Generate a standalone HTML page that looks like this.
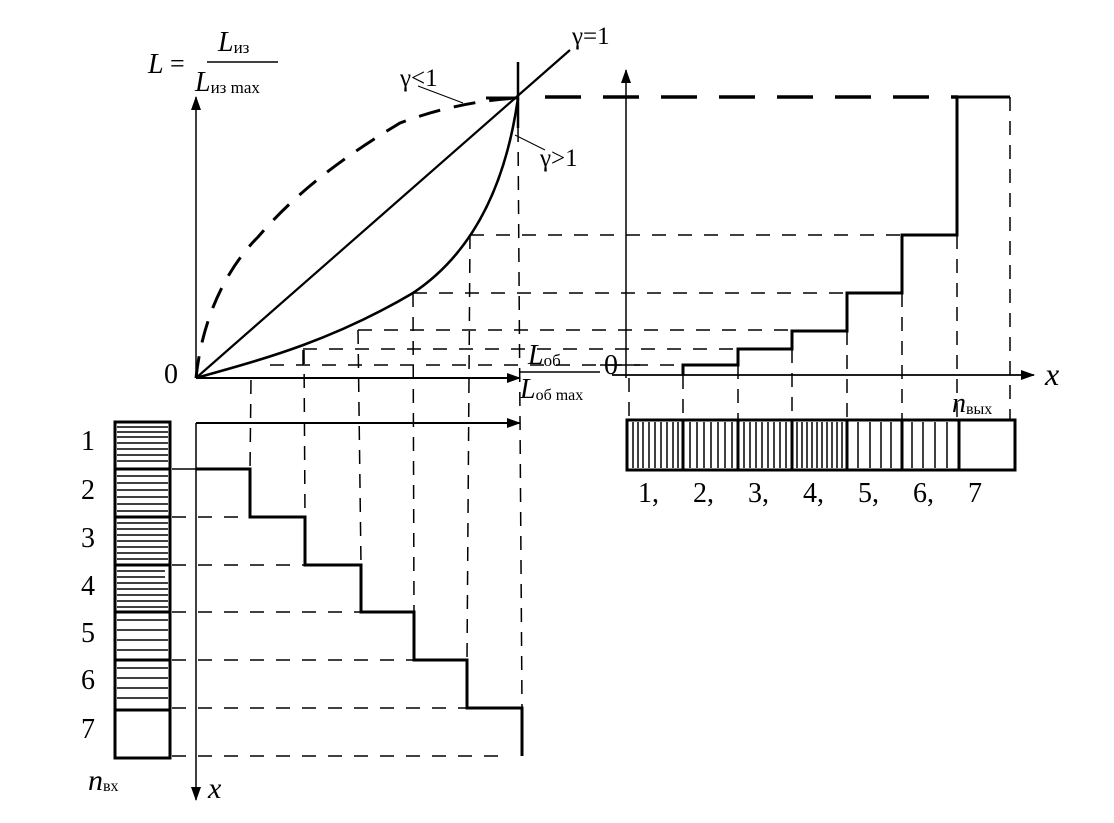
<!DOCTYPE html>
<html><head><meta charset="utf-8"><style>
html,body{margin:0;padding:0;background:#fff;}
svg{display:block;}
text{font-family:"Liberation Serif",serif;fill:#000;}
</style></head><body>
<svg width="1114" height="823" viewBox="0 0 1114 823" xmlns="http://www.w3.org/2000/svg">
<defs>
<marker id="ar" markerWidth="14" markerHeight="10" refX="13" refY="5" orient="auto" markerUnits="userSpaceOnUse"><path d="M0,0 L14,5 L0,10 Z" fill="#000"/></marker>
</defs>
<g stroke="#000" fill="none">
<line x1="196" y1="378" x2="196" y2="97" stroke-width="1.5" marker-end="url(#ar)"/>
<line x1="196" y1="378" x2="520" y2="378" stroke-width="2" marker-end="url(#ar)"/>
<line x1="196" y1="378" x2="570" y2="50" stroke-width="2.2"/>
<path d="M196,378 C202,320 225,270 258,237 C290,200 330,165 400,123 C440,108 480,100 518,98" stroke-width="3" stroke-dasharray="22,14"/>
<path d="M196,378 C260,360 330,342 413,293 C470,255 505,190 518,98" stroke-width="2.6"/>
<line x1="518" y1="62" x2="518" y2="128" stroke-width="2.5"/>
<line x1="486" y1="98" x2="518" y2="98" stroke-width="3"/>
<line x1="418" y1="86" x2="463" y2="103" stroke-width="1"/>
<line x1="515" y1="135" x2="545" y2="150" stroke-width="1"/>
<line x1="545" y1="97" x2="958" y2="97" stroke-width="3.5" stroke-dasharray="36,22"/>
<g stroke-width="1.5" stroke-dasharray="14,12">
<line x1="470" y1="235" x2="902" y2="235"/>
<line x1="413" y1="293" x2="847" y2="293"/>
<line x1="358" y1="330" x2="792" y2="330"/>
<line x1="303" y1="349" x2="738" y2="349"/>
<line x1="270" y1="365" x2="683" y2="365"/>
</g>
<line x1="303" y1="350" x2="303" y2="365" stroke-width="1.5"/>
<g stroke-width="1.5" stroke-dasharray="14,10">
<line x1="251" y1="380" x2="250" y2="469"/>
<line x1="304" y1="350" x2="305" y2="517"/>
<line x1="358" y1="330" x2="361" y2="565"/>
<line x1="413" y1="293" x2="414" y2="612"/>
<line x1="470" y1="235" x2="467" y2="660"/>
<line x1="518" y1="128" x2="522" y2="708"/>
</g>
<line x1="196" y1="423" x2="520" y2="423" stroke-width="2" marker-end="url(#ar)"/>
<line x1="196" y1="423" x2="196" y2="800" stroke-width="1.5" marker-end="url(#ar)"/>
<path d="M196,469 H250 V517 H305 V565 H361 V612 H414 V660 H467 V708 H522 V756" stroke-width="3"/>
<g stroke-width="1.5" stroke-dasharray="14,12">
<line x1="172" y1="517" x2="305" y2="517"/>
<line x1="172" y1="565" x2="361" y2="565"/>
<line x1="172" y1="612" x2="414" y2="612"/>
<line x1="172" y1="660" x2="467" y2="660"/>
<line x1="172" y1="708" x2="522" y2="708"/>
<line x1="172" y1="756" x2="510" y2="756"/>
</g>
<line x1="172" y1="469" x2="196" y2="469" stroke-width="1.5"/>
<rect x="115" y="422" width="55" height="336" stroke-width="3"/>
<g stroke-width="3"><line x1="115" y1="469" x2="170" y2="469"/><line x1="115" y1="517" x2="170" y2="517"/><line x1="115" y1="565" x2="170" y2="565"/><line x1="115" y1="612" x2="170" y2="612"/><line x1="115" y1="660" x2="170" y2="660"/><line x1="115" y1="710" x2="170" y2="710"/></g>
<g stroke-width="1.5">
<line x1="117" y1="427" x2="168" y2="427"/><line x1="117" y1="432" x2="168" y2="432"/><line x1="117" y1="437" x2="168" y2="437"/><line x1="117" y1="443" x2="168" y2="443"/><line x1="117" y1="449" x2="168" y2="449"/><line x1="117" y1="455" x2="168" y2="455"/><line x1="117" y1="461" x2="168" y2="461"/>
<line x1="117" y1="476" x2="168" y2="476"/><line x1="117" y1="483" x2="168" y2="483"/><line x1="117" y1="490" x2="168" y2="490"/><line x1="117" y1="497" x2="168" y2="497"/><line x1="117" y1="504" x2="168" y2="504"/><line x1="117" y1="511" x2="168" y2="511"/>
<line x1="117" y1="523" x2="168" y2="523"/><line x1="117" y1="529" x2="168" y2="529"/><line x1="117" y1="535" x2="168" y2="535"/><line x1="117" y1="541" x2="168" y2="541"/><line x1="117" y1="547" x2="168" y2="547"/><line x1="117" y1="553" x2="168" y2="553"/><line x1="117" y1="559" x2="168" y2="559"/>
<line x1="117" y1="571" x2="165" y2="571"/><line x1="117" y1="577" x2="165" y2="577"/><line x1="117" y1="583" x2="168" y2="583"/><line x1="117" y1="589" x2="168" y2="589"/><line x1="117" y1="595" x2="168" y2="595"/><line x1="117" y1="601" x2="168" y2="601"/><line x1="117" y1="607" x2="168" y2="607"/>
<line x1="117" y1="620" x2="168" y2="620"/><line x1="117" y1="630" x2="168" y2="630"/><line x1="117" y1="640" x2="168" y2="640"/><line x1="117" y1="650" x2="168" y2="650"/>
<line x1="117" y1="668" x2="168" y2="668"/><line x1="117" y1="678" x2="168" y2="678"/><line x1="117" y1="688" x2="168" y2="688"/><line x1="117" y1="698" x2="168" y2="698"/>
</g>
<line x1="626" y1="378" x2="626" y2="70" stroke-width="1.5" marker-end="url(#ar)"/>
<line x1="612" y1="375" x2="1034" y2="375" stroke-width="1.8" marker-end="url(#ar)"/>
<line x1="600" y1="365" x2="640" y2="365" stroke-width="1.5"/>
<path d="M683,375 V365 H738 V349 H792 V331 H847 V293 H902 V235 H957 V97 H1010" stroke-width="3"/>
<g stroke-width="1.5" stroke-dasharray="14,10">
<line x1="1010" y1="97" x2="1010" y2="420"/>
<line x1="957" y1="235" x2="957" y2="420"/>
<line x1="902" y1="293" x2="902" y2="420"/>
<line x1="847" y1="331" x2="847" y2="420"/>
<line x1="792" y1="349" x2="792" y2="420"/>
<line x1="738" y1="365" x2="738" y2="420"/>
<line x1="683" y1="375" x2="683" y2="420"/>
<line x1="629" y1="378" x2="629" y2="420"/>
</g>
<rect x="627" y="420" width="388" height="50" stroke-width="3"/>
<g stroke-width="3"><line x1="683" y1="420" x2="683" y2="470"/><line x1="738" y1="420" x2="738" y2="470"/><line x1="792" y1="420" x2="792" y2="470"/><line x1="847" y1="420" x2="847" y2="470"/><line x1="902" y1="420" x2="902" y2="470"/><line x1="959" y1="420" x2="959" y2="470"/></g>
<g stroke-width="1.5">
<line x1="633" y1="422" x2="633" y2="468"/><line x1="638" y1="422" x2="638" y2="468"/><line x1="643" y1="422" x2="643" y2="468"/><line x1="649" y1="422" x2="649" y2="468"/><line x1="655" y1="422" x2="655" y2="468"/><line x1="661" y1="422" x2="661" y2="468"/><line x1="667" y1="422" x2="667" y2="468"/><line x1="673" y1="422" x2="673" y2="468"/><line x1="678" y1="422" x2="678" y2="468"/>
<line x1="690" y1="422" x2="690" y2="468"/><line x1="697" y1="422" x2="697" y2="468"/><line x1="704" y1="422" x2="704" y2="468"/><line x1="711" y1="422" x2="711" y2="468"/><line x1="718" y1="422" x2="718" y2="468"/><line x1="725" y1="422" x2="725" y2="468"/><line x1="732" y1="422" x2="732" y2="468"/>
<line x1="744" y1="422" x2="744" y2="468"/><line x1="750" y1="422" x2="750" y2="468"/><line x1="756" y1="422" x2="756" y2="468"/><line x1="762" y1="422" x2="762" y2="468"/><line x1="768" y1="422" x2="768" y2="468"/><line x1="774" y1="422" x2="774" y2="468"/><line x1="780" y1="422" x2="780" y2="468"/><line x1="786" y1="422" x2="786" y2="468"/>
<line x1="797" y1="422" x2="797" y2="468"/><line x1="802" y1="422" x2="802" y2="468"/><line x1="807" y1="422" x2="807" y2="468"/><line x1="812" y1="422" x2="812" y2="468"/><line x1="817" y1="422" x2="817" y2="468"/><line x1="822" y1="422" x2="822" y2="468"/><line x1="827" y1="422" x2="827" y2="468"/><line x1="832" y1="422" x2="832" y2="468"/><line x1="837" y1="422" x2="837" y2="468"/><line x1="842" y1="422" x2="842" y2="468"/>
<line x1="858" y1="422" x2="858" y2="468"/><line x1="870" y1="422" x2="870" y2="468"/><line x1="881" y1="422" x2="881" y2="468"/><line x1="891" y1="422" x2="891" y2="468"/>
<line x1="912" y1="422" x2="912" y2="468"/><line x1="923" y1="422" x2="923" y2="468"/><line x1="935" y1="422" x2="935" y2="468"/><line x1="947" y1="422" x2="947" y2="468"/>
</g>
</g>
<text x="148" y="73" font-size="28" font-style="italic">L</text>
<text x="170" y="72" font-size="26">=</text>
<text x="218" y="51" font-size="28" font-style="italic">L<tspan font-size="17" font-style="normal" dy="2">из</tspan></text>
<line x1="207" y1="62" x2="278" y2="62" stroke="#000" stroke-width="1.5"/>
<text x="195" y="91" font-size="28" font-style="italic">L<tspan font-size="17" font-style="normal" dy="2">из max</tspan></text>
<text x="400" y="86" font-size="25">γ&lt;1</text>
<text x="540" y="166" font-size="25">γ&gt;1</text>
<text x="572" y="44" font-size="25">γ=1</text>
<text x="164" y="383" font-size="28">0</text>
<text x="528" y="364" font-size="28" font-style="italic">L<tspan font-size="17" font-style="normal" dy="2">об</tspan></text>
<line x1="520" y1="372" x2="600" y2="372" stroke="#000" stroke-width="1.5"/>
<text x="520" y="398" font-size="28" font-style="italic">L<tspan font-size="16" font-style="normal" dy="2">об max</tspan></text>
<text x="604" y="374" font-size="28">0</text>
<text x="1045" y="385" font-size="32" font-style="italic">x</text>
<text x="952" y="412" font-size="28" font-style="italic">n<tspan font-size="16" font-style="normal" dy="2">вых</tspan></text>
<g font-size="28">
<text x="638" y="502">1,</text><text x="693" y="502">2,</text><text x="748" y="502">3,</text><text x="803" y="502">4,</text><text x="858" y="502">5,</text><text x="913" y="502">6,</text><text x="968" y="502">7</text>
<text x="81" y="450">1</text><text x="81" y="499">2</text><text x="81" y="547">3</text><text x="81" y="595">4</text><text x="81" y="642">5</text><text x="81" y="689">6</text><text x="81" y="738">7</text>
</g>
<text x="88" y="790" font-size="30" font-style="italic">n<tspan font-size="16" font-style="normal" dy="1">вх</tspan></text>
<text x="208" y="798" font-size="30" font-style="italic">x</text>
</svg>
</body></html>
